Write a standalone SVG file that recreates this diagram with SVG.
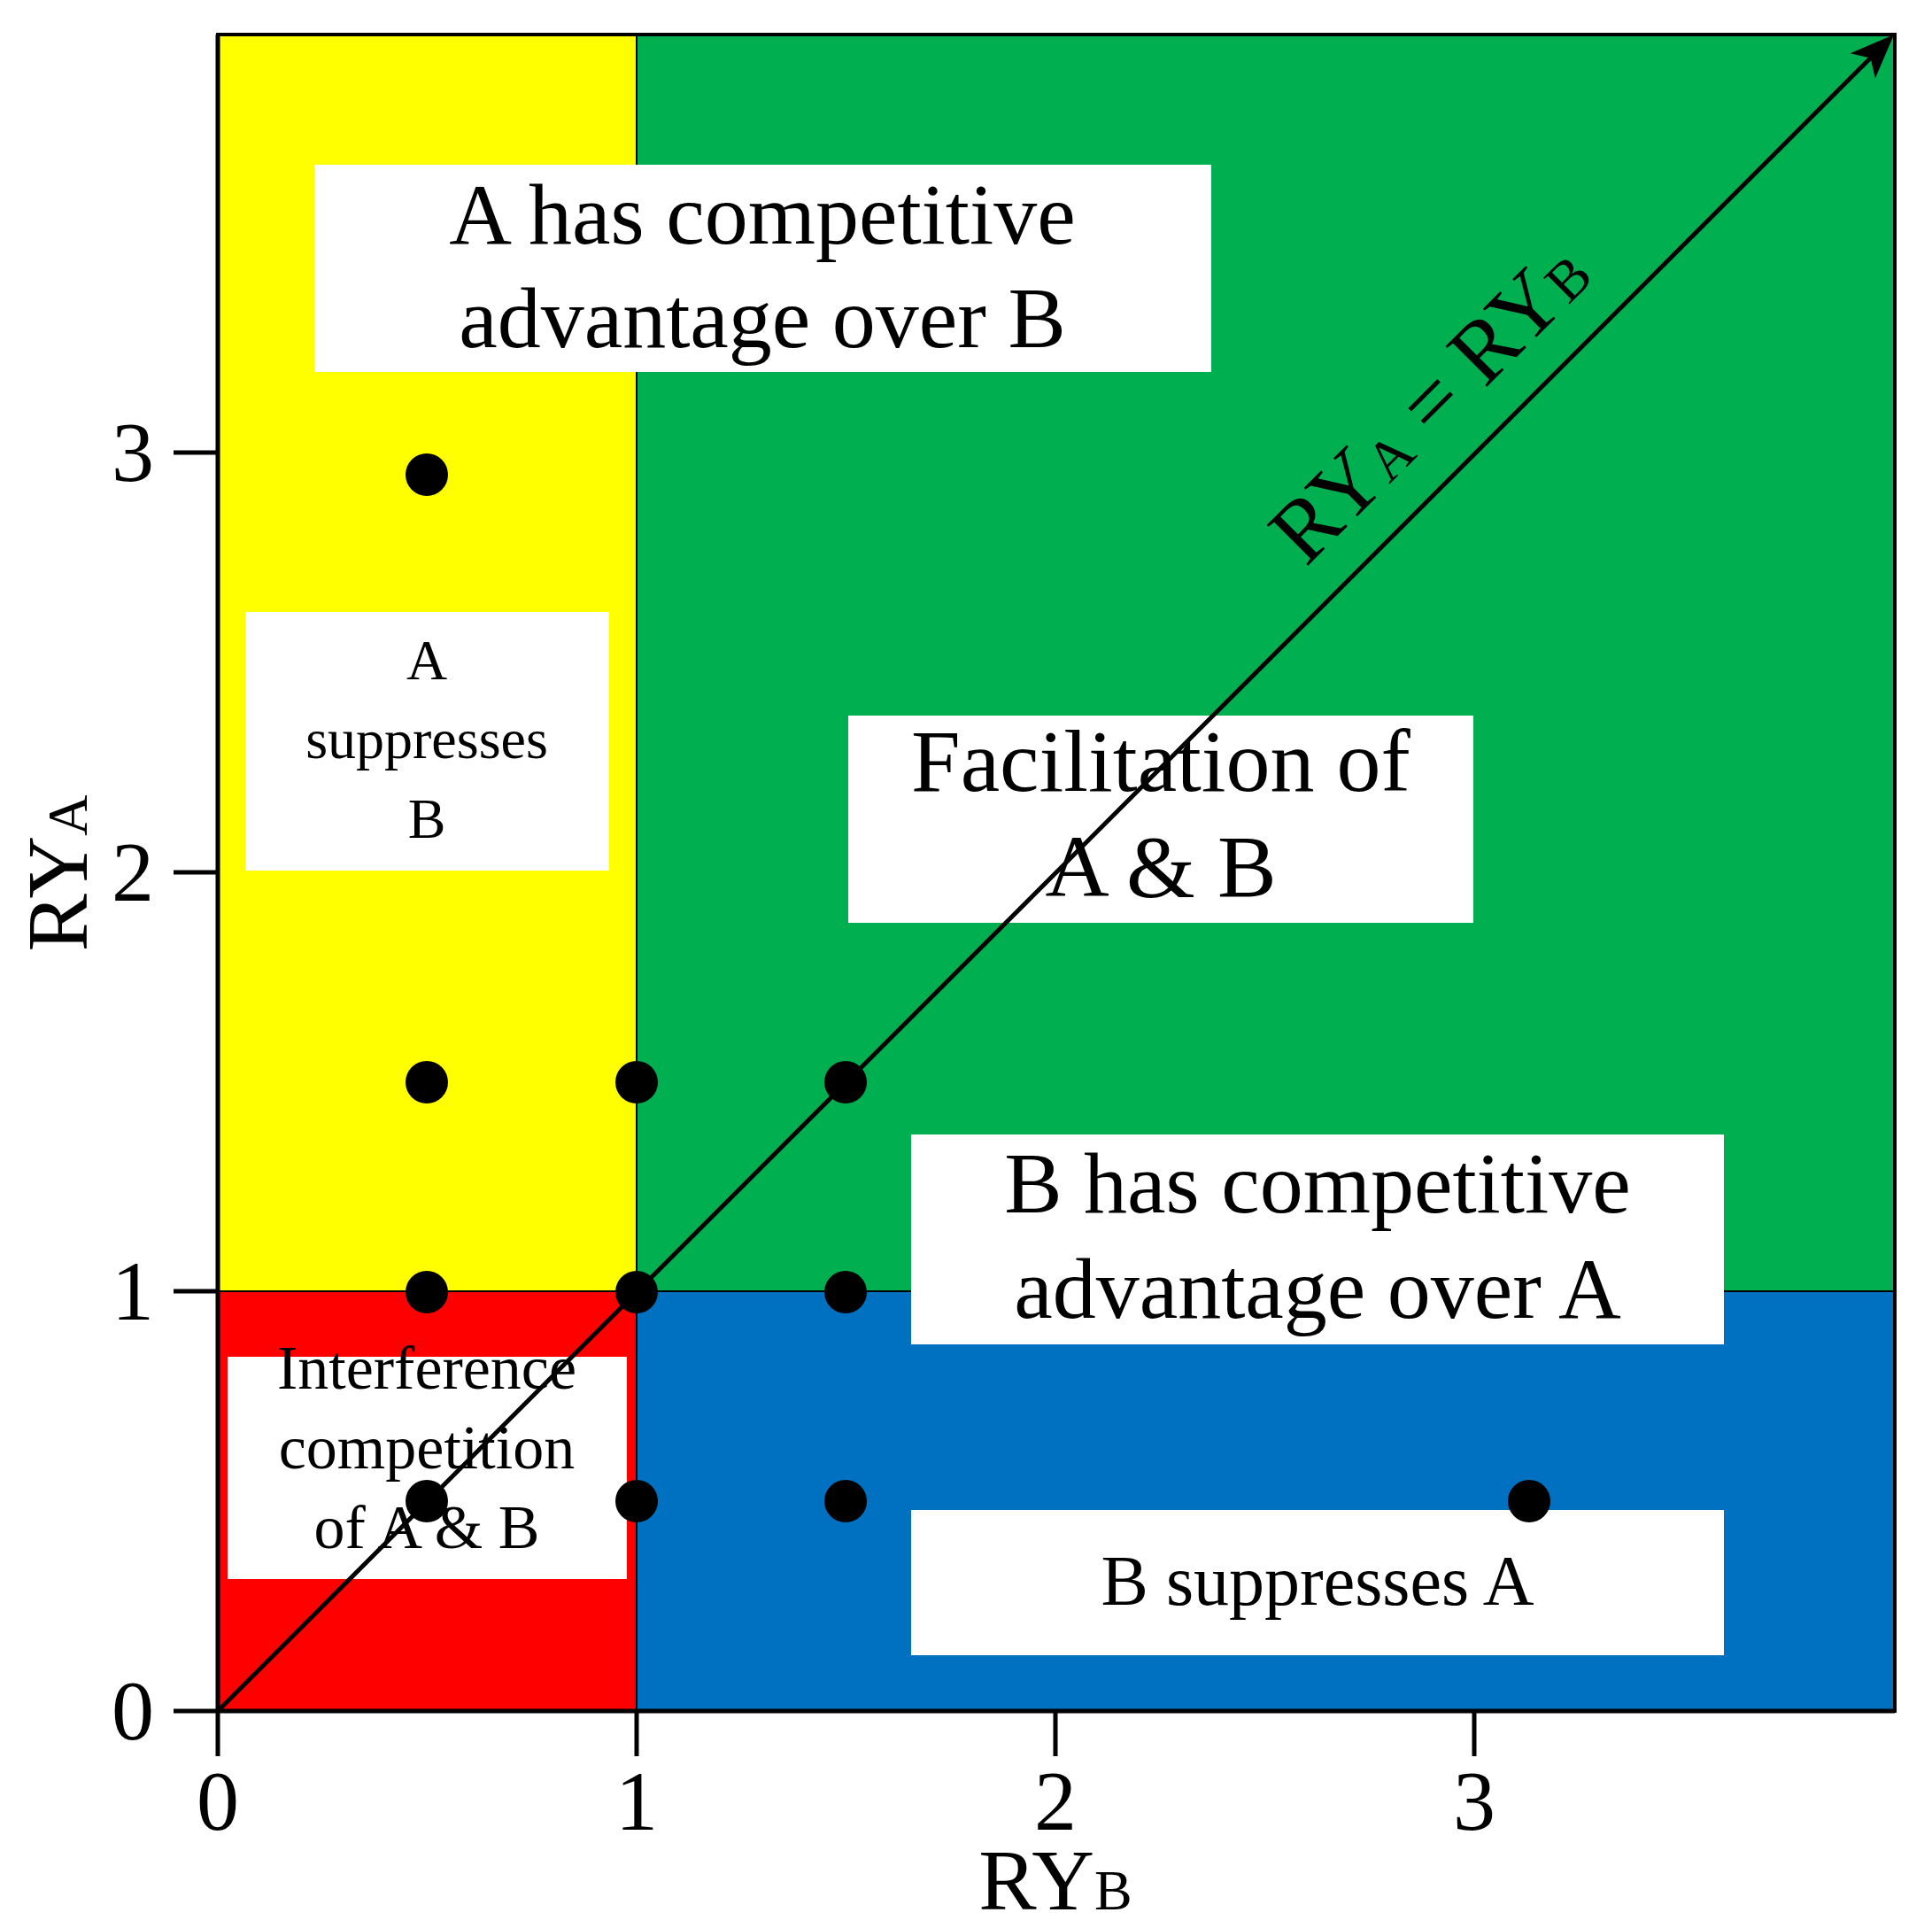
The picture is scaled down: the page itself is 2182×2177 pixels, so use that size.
<svg xmlns="http://www.w3.org/2000/svg" width="2182" height="2177" viewBox="0 0 2182 2177">
<style>
text{font-family:"Liberation Serif","Times New Roman",serif;fill:#000}
.box{fill:#fff}
.dot{fill:#000}
.ax{stroke:#000;stroke-width:5;fill:none}
</style>
<defs><marker id="ah" markerWidth="10" markerHeight="10" refX="8" refY="5" orient="auto" markerUnits="strokeWidth"><path d="M0,1 L10,5 L0,9 L2.5,5z" fill="#000"/></marker></defs>
<rect width="2182" height="2177" fill="#fff"/>
<g id="regions">
<rect x="246" y="39" width="473" height="1419" fill="#FFFF00"/>
<rect x="719" y="39" width="1421" height="1419" fill="#00B050"/>
<rect x="246" y="1458" width="473" height="474" fill="#FF0000"/>
<rect x="719" y="1458" width="1421" height="474" fill="#0070C0"/>
<line x1="719" y1="39" x2="719" y2="1932" stroke="#000" stroke-width="2"/>
<line x1="246" y1="1458" x2="2140" y2="1458" stroke="#000" stroke-width="2"/>
<rect x="246" y="39" width="1894" height="1893" fill="none" stroke="#000" stroke-width="4"/>
</g>
<g id="box-a-adv"><rect class="box" x="355" y="186" width="1013" height="234"/><text x="861" y="275" font-size="98" text-anchor="middle">A has competitive</text><text x="861" y="392" font-size="98" text-anchor="middle">advantage over B</text></g>
<g id="box-a-supp"><rect class="box" x="277" y="691" width="411" height="292"/><text x="482" y="767" font-size="64" text-anchor="middle">A</text><text x="482" y="856" font-size="64" text-anchor="middle">suppresses</text><text x="482" y="946" font-size="64" text-anchor="middle">B</text></g>
<g id="box-fac"><rect class="box" x="958" y="808" width="706" height="234"/><text x="1311" y="893" font-size="100" text-anchor="middle">Facilitation of</text><text x="1311" y="1012" font-size="100" text-anchor="middle">A &amp; B</text></g>
<g id="box-b-adv"><rect class="box" x="1029" y="1281" width="918" height="237"/><text x="1488" y="1369" font-size="98" text-anchor="middle">B has competitive</text><text x="1488" y="1488" font-size="98" text-anchor="middle">advantage over A</text></g>
<g id="box-b-supp"><rect class="box" x="1029" y="1705" width="918" height="164"/><text x="1488" y="1812" font-size="80" text-anchor="middle">B suppresses A</text></g>
<g id="box-interf"><rect class="box" x="257" y="1532" width="451" height="251"/><text x="482" y="1568" font-size="70" text-anchor="middle">Interference</text><text x="482" y="1658" font-size="70" text-anchor="middle">competition</text><text x="482" y="1748" font-size="70" text-anchor="middle">of A &amp; B</text></g>
<g id="connectors">
<line x1="246" y1="1932" x2="2132" y2="46" stroke="#000" stroke-width="5" marker-end="url(#ah)"/>
</g>
<g id="diag-label"><text transform="translate(1638,478) rotate(-45)" font-size="100" text-anchor="middle">RY<tspan font-size="64">A</tspan> = RY<tspan font-size="64">B</tspan></text></g>
<g id="dots">
<circle class="dot" cx="482" cy="536" r="24"/>
<circle class="dot" cx="482" cy="1222" r="24"/><circle class="dot" cx="719" cy="1222" r="24"/><circle class="dot" cx="955" cy="1222" r="24"/>
<circle class="dot" cx="482" cy="1459" r="24"/><circle class="dot" cx="719" cy="1459" r="24"/><circle class="dot" cx="955" cy="1459" r="24"/>
<circle class="dot" cx="482" cy="1695" r="24"/><circle class="dot" cx="719" cy="1695" r="24"/><circle class="dot" cx="955" cy="1695" r="24"/><circle class="dot" cx="1727" cy="1695" r="24"/>
</g>
<g id="axes">
<line class="ax" x1="246" y1="39" x2="246" y2="1932"/>
<line class="ax" x1="246" y1="1932" x2="2140" y2="1932"/>
<path class="ax" d="M196,1932H246M196,1458H246M196,985H246M196,511H246M246,1932V1983M719,1932V1983M1192,1932V1983M1665,1932V1983"/>
<g font-size="96" text-anchor="middle">
<text x="150" y="1964">0</text><text x="150" y="1490">1</text><text x="150" y="1017">2</text><text x="150" y="543">3</text>
<text x="246" y="2066">0</text><text x="719" y="2066">1</text><text x="1192" y="2066">2</text><text x="1665" y="2066">3</text>
</g>
<text x="1192" y="2156" font-size="98" text-anchor="middle">RY<tspan font-size="64">B</tspan></text>
<text transform="translate(98,986) rotate(-90)" font-size="98" text-anchor="middle">RY<tspan font-size="64">A</tspan></text>
</g>
</svg>
